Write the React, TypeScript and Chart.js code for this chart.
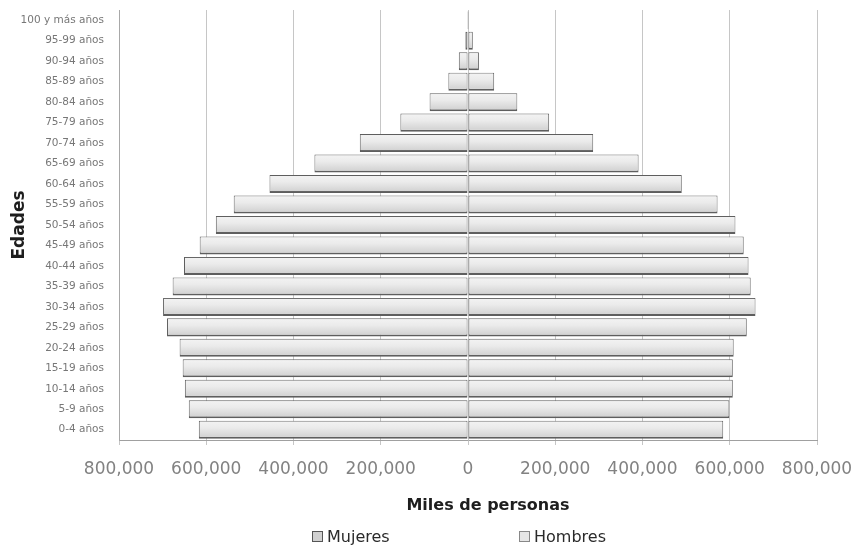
import React, { useEffect, useRef } from "react";
import { Chart, registerables } from "chart.js";

Chart.register(...registerables);

const categories = [
  "0-4 años", "5-9 años", "10-14 años", "15-19 años", "20-24 años",
  "25-29 años", "30-34 años", "35-39 años", "40-44 años", "45-49 años",
  "50-54 años", "55-59 años", "60-64 años", "65-69 años", "70-74 años",
  "75-79 años", "80-84 años", "85-89 años", "90-94 años", "95-99 años",
  "100 y más años",
];

const mujeres = [
  617000, 640000, 649000, 654000, 661000, 690000, 699000, 677000, 651000, 615000,
  578000, 537000, 455000, 352000, 248000, 155000, 88000, 45000, 21000, 6000, 2000,
];

const hombres = [
  585000, 599000, 607000, 607000, 609000, 639000, 659000, 648000, 643000, 632000,
  613000, 572000, 490000, 391000, 287000, 186000, 113000, 60000, 25000, 11000, 2000,
];

const xTicks = [-800000, -600000, -400000, -200000, 0, 200000, 400000, 600000, 800000];

const xTitle = "Miles de personas";
const yTitle = "Edades";
const legendLabels = ["Mujeres", "Hombres"];

const FONT = "'DejaVu Sans', 'Noto Sans', sans-serif";

const barShade = {
  id: "barShade",
  afterDatasetsDraw(chart: any) {
    const ctx = chart.ctx;
    ctx.save();
    chart.data.datasets.forEach((_: any, i: number) => {
      const meta = chart.getDatasetMeta(i);
      meta.data.forEach((el: any) => {
        const p = el.getProps(["x", "y", "base", "height"], true);
        const left = Math.min(p.x, p.base);
        const right = Math.max(p.x, p.base);
        const top = p.y - p.height / 2;
        const w = right - left - 2;
        const h = p.height - 3;
        if (w <= 0 || h <= 0) return;
        const g = ctx.createLinearGradient(0, top + 1, 0, top + 1 + h);
        g.addColorStop(0, "#f2f2f2");
        g.addColorStop(0.4, "#ebebeb");
        g.addColorStop(1, "#d3d3d3");
        ctx.fillStyle = g;
        ctx.fillRect(left + 1, top + 1, w, h);
      });
    });
    ctx.restore();
  },
};

export default function App() {
  const ref = useRef<HTMLCanvasElement | null>(null);

  useEffect(() => {
    if (!ref.current) return;
    const chart = new Chart(ref.current, {
      type: "bar",
      data: {
        labels: categories,
        datasets: [
          {
            label: legendLabels[0],
            data: mujeres.map((v) => -v),
            backgroundColor: "#e3e3e3",
            borderColor: "#5e5e5e",
            borderWidth: { top: 1, left: 1, right: 1, bottom: 2 },
            borderSkipped: false,
            barPercentage: 0.88,
            categoryPercentage: 1,
          },
          {
            label: legendLabels[1],
            data: hombres,
            backgroundColor: "#e3e3e3",
            borderColor: "#5e5e5e",
            borderWidth: { top: 1, left: 1, right: 1, bottom: 2 },
            borderSkipped: false,
            barPercentage: 0.88,
            categoryPercentage: 1,
          },
        ],
      },
      plugins: [barShade],
      options: {
        indexAxis: "y",
        animation: false,
        responsive: false,
        maintainAspectRatio: false,
        layout: { padding: { top: 10, right: 36, bottom: 0, left: 0 } },
        plugins: {
          legend: { display: false },
          tooltip: { enabled: false },
        },
        scales: {
          x: {
            type: "linear",
            stacked: true,
            min: -800000,
            max: 800000,
            afterBuildTicks: (scale: any) => {
              scale.ticks = xTicks.map((v) => ({ value: v }));
            },
            afterFit: (scale: any) => {
              scale.height = 106;
              scale.paddingLeft = 0;
              scale.paddingRight = 0;
            },
            grid: {
              color: "#c6c6c6",
              lineWidth: 1,
              tickLength: 5,
              drawTicks: true,
            },
            border: { display: true, color: "#a0a0a0", width: 1 },
            ticks: {
              padding: 14,
              color: "#828282",
              font: { family: FONT, size: 17 },
              callback: (v: any) => Math.abs(Number(v)).toLocaleString("en-US"),
            },
            title: { display: false },
          },
          y: {
            type: "category",
            stacked: true,
            reverse: true,
            afterFit: (scale: any) => {
              scale.width = 119;
              scale.paddingTop = 0;
              scale.paddingBottom = 0;
            },
            grid: { display: false, drawTicks: false },
            border: { display: true, color: "#a8a8a8", width: 1 },
            ticks: {
              padding: 15,
              color: "#777777",
              font: { family: FONT, size: 10.5 },
              autoSkip: false,
            },
            title: {
              display: true,
              text: yTitle,
              color: "#1e1e1e",
              font: { family: FONT, size: 17, weight: "bold" },
              padding: { top: 9, bottom: 4 },
            },
          },
        },
      },
    });
    return () => chart.destroy();
  }, []);

  const box = (fill: string, border: string) => ({
    display: "inline-block",
    width: 9,
    height: 9,
    background: fill,
    border: `1px solid ${border}`,
    marginRight: 4,
    verticalAlign: "middle",
  });

  const legendStyle = (left: number) => ({
    position: "absolute" as const,
    top: 526,
    left,
    fontFamily: FONT,
    fontSize: 16,
    color: "#2a2a2a",
    lineHeight: "20px",
    whiteSpace: "nowrap" as const,
  });

  return (
    <div style={{ position: "fixed", left: 0, top: 0, width: 853, height: 546, background: "#fff" }}>
      <canvas ref={ref} width={853} height={546} style={{ display: "block" }} />
      <div
        style={{
          position: "absolute",
          top: 495,
          left: 388,
          width: 200,
          textAlign: "center",
          fontFamily: FONT,
          fontSize: 16,
          fontWeight: "bold",
          color: "#1e1e1e",
          lineHeight: "20px",
          whiteSpace: "nowrap",
        }}
      >
        {xTitle}
      </div>
      <div style={legendStyle(312)}>
        <span style={box("#d0d0d0", "#555")} />
        <span style={{ verticalAlign: "middle" }}>{legendLabels[0]}</span>
      </div>
      <div style={legendStyle(519)}>
        <span style={box("#e6e6e6", "#888")} />
        <span style={{ verticalAlign: "middle" }}>{legendLabels[1]}</span>
      </div>
    </div>
  );
}
